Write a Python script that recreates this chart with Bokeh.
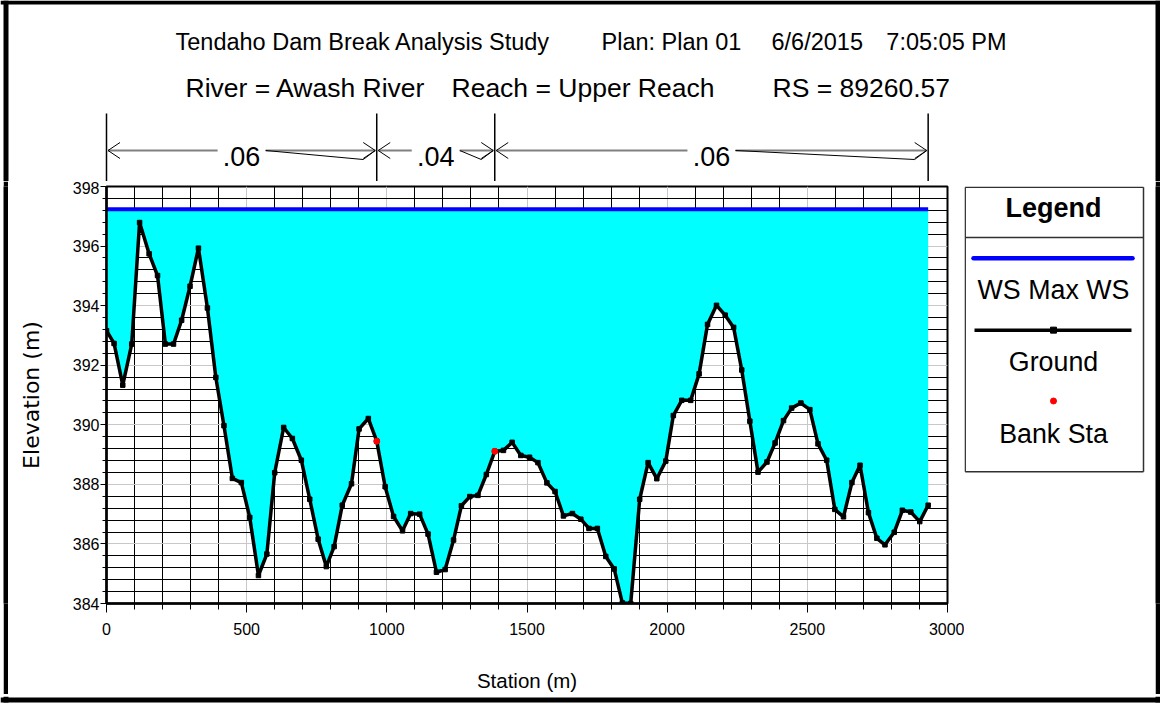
from bokeh.plotting import figure
from bokeh.layouts import column, row
from bokeh.models import Label, SingleIntervalTicker, Range1d
from bokeh.embed import file_html
from bokeh.resources import INLINE

# ---------------- data ----------------
station = [0, 27, 58, 90, 118, 152, 182, 210, 239, 268, 298, 328, 360, 390, 419, 449, 481, 511,
           542, 572, 600, 632, 663, 695, 725, 755, 784, 812, 841, 874, 901, 934, 964, 994, 1024,
           1056, 1085, 1117, 1147, 1177, 1208, 1238, 1266, 1296, 1325, 1355, 1385, 1416, 1447,
           1478, 1509, 1539, 1571, 1600, 1630, 1662, 1692, 1721, 1751, 1781, 1811, 1840, 1870,
           1902, 1932, 1963, 1995, 2022, 2052, 2084, 2114, 2144, 2176, 2207, 2237, 2266, 2295,
           2324, 2356, 2385, 2415, 2444, 2477, 2509, 2538, 2569, 2598, 2629, 2659, 2688, 2718,
           2748, 2777, 2810, 2839, 2869, 2901, 2931]
ground = [393.16, 392.73, 391.33, 392.71, 396.79, 395.74, 395.01, 392.71, 392.71, 393.51, 394.65,
          395.93, 393.92, 391.59, 389.97, 388.20, 388.06, 386.89, 384.94, 385.66, 388.39, 389.91,
          389.54, 388.81, 387.50, 386.16, 385.24, 385.91, 387.30, 388.02, 389.86, 390.21, 389.45,
          387.92, 386.92, 386.44, 387.02, 387.00, 386.33, 385.05, 385.14, 386.13, 387.28, 387.59,
          387.63, 388.33, 389.11, 389.14, 389.41, 388.97, 388.91, 388.73, 388.05, 387.76, 386.94,
          387.02, 386.83, 386.52, 386.52, 385.58, 385.16, 384.02, 384.00, 387.50, 388.73, 388.19,
          388.78, 390.31, 390.82, 390.82, 391.71, 393.37, 394.01, 393.68, 393.27, 391.84, 390.12,
          388.41, 388.75, 389.39, 390.14, 390.56, 390.73, 390.51, 389.36, 388.81, 387.16, 386.91,
          388.06, 388.64, 387.05, 386.19, 385.97, 386.39, 387.13, 387.07, 386.75, 387.30]
bank_sta = [964, 1385]
bank_elev = [389.45, 389.11]
ws_max = 397.24

mann_n = [".06", ".04", ".06"]
mann_bounds = [0, 964, 1385, 2931]

x_tick_step = 500
y_tick_step = 2
x_limits = [0, 3000]
y_limits = [384, 398]

title_line1 = ["Tendaho Dam Break Analysis Study", "Plan: Plan 01", "6/6/2015", "7:05:05 PM"]
title_line2 = ["River = Awash River", "Reach = Upper Reach", "RS = 89260.57"]
legend_title = "Legend"
legend_labels = ["WS Max WS", "Ground", "Bank Sta"]

# ---------------- page geometry (pixels) ----------------
W, H = 1160, 704
FL, FR, FT, FB = 106, 947, 186, 604      # plot frame on the page
TOP_H = 181                               # header strip height
BOT_H = 10
MID_H = H - TOP_H - BOT_H
BL0, BL1 = 3, 8                           # left page border band
BR0 = 1155                                # right page border band start
M_R = 964                                 # right edge of main plot canvas
FONT = "Liberation Sans"


def dx(px):
    return x_limits[0] + (px - FL) * (x_limits[1] - x_limits[0]) / (FR - FL)


def ddx(px):
    return px * (x_limits[1] - x_limits[0]) / (FR - FL)


def deco(width, height, xr, yr, color="white", **borders):
    f = figure(width=width, height=height, x_range=xr, y_range=yr, output_backend="svg",
               toolbar_location=None, min_border=0, x_axis_type=None, y_axis_type=None,
               **borders)
    f.outline_line_color = None
    f.background_fill_color = color
    f.border_fill_color = color
    f.grid.visible = False
    return f


def draw_segs(f, lst, color, width, cap="butt"):
    f.segment(x0=[s[0] for s in lst], y0=[s[1] for s in lst],
              x1=[s[2] for s in lst], y1=[s[3] for s in lst],
              line_color=color, line_width=width, line_cap=cap)


# ---------------- main plot ----------------
p = figure(width=M_R - BL1, height=MID_H, x_range=Range1d(*x_limits),
           y_range=Range1d(*y_limits), output_backend="svg", toolbar_location=None,
           min_border_left=FL - BL1, min_border_right=M_R - FR,
           min_border_top=FT - TOP_H, min_border_bottom=(TOP_H + MID_H) - FB)
p.background_fill_color = "white"
p.border_fill_color = "white"
p.outline_line_color = "black"
p.outline_line_width = 2

p.xaxis.ticker = SingleIntervalTicker(interval=x_tick_step, num_minor_ticks=5)
p.yaxis.ticker = SingleIntervalTicker(interval=y_tick_step, num_minor_ticks=5)
for ax in (p.xaxis, p.yaxis):
    ax.axis_line_color = "black"
    ax.axis_line_width = 2.5
    ax.major_tick_line_color = "black"
    ax.minor_tick_line_color = "black"
    ax.major_tick_in = 0
    ax.minor_tick_in = 0
    ax.major_label_text_font = FONT
    ax.major_label_text_font_size = "16px"
    ax.major_label_text_color = "black"
    ax.axis_label_text_font_style = "normal"
    ax.axis_label_text_color = "black"
p.xaxis.major_tick_out = 9
p.xaxis.minor_tick_out = 6
p.yaxis.major_tick_out = 6
p.yaxis.minor_tick_out = 4
p.xaxis.major_label_standoff = 10
p.yaxis.major_label_standoff = 1
p.xaxis.axis_label = "Station (m)"
p.xaxis.axis_label_text_font = FONT
p.xaxis.axis_label_text_font_size = "20.5px"
p.xaxis.axis_label_standoff = 31
p.yaxis.axis_label = "Elevation (m)"
p.yaxis.axis_label_text_font = "DejaVu Sans"
p.yaxis.axis_label_text_font_size = "22px"
p.yaxis.axis_label_standoff = 26

for g in (p.xgrid, p.ygrid):
    g.grid_line_color = "#c8c8c8"
    g.grid_line_width = 1
    g.minor_grid_line_color = "black"
    g.minor_grid_line_width = 1

n = len(station)
p.varea(x=station, y1=ground, y2=[ws_max] * n, fill_color="#00ffff")
p.line(station, ground, line_color="black", line_width=3.5)
p.scatter(station, ground, marker="square", size=4.5, color="black")
p.line([station[0], station[-1]], [ws_max, ws_max], line_color="#0000ff", line_width=4)
p.scatter(bank_sta, bank_elev, marker="circle", size=6, color="red")

# ---------------- header strip: titles + Manning's n ----------------
top = deco(W, TOP_H, Range1d(dx(0), dx(W)), Range1d(TOP_H, 0))
for txt, px, al in zip(title_line1, [175, 601, 771, 1006], ["left", "left", "left", "right"]):
    top.add_layout(Label(x=dx(px), y=41, text=txt, text_font=FONT, text_font_size="23.5px",
                         text_align=al, text_baseline="middle", text_color="black"))
for txt, px in zip(title_line2, [185, 451, 772]):
    top.add_layout(Label(x=dx(px), y=87.5, text=txt, text_font=FONT, text_font_size="26.5px",
                         text_align="left", text_baseline="middle", text_color="black"))

ya, yl = 150, 159
gray_s, black_s = [], []
for i, lab in enumerate(mann_n):
    a, b = mann_bounds[i], mann_bounds[i + 1]
    mid = (a + b) / 2
    half = ddx(24)
    lt, rt = a + ddx(1.5), b - ddx(1.5)
    gray_s += [(lt, ya, mid - half, ya), (mid + half, ya, rt, ya)]
    black_s += [(mid + half, ya, rt - ddx(12), yl), (rt - ddx(12), yl, rt, ya)]
    for tip, sgn in ((lt, 1), (rt, -1)):
        black_s += [(tip, ya, tip + sgn * ddx(12), ya - 8), (tip, ya, tip + sgn * ddx(12), ya + 8)]
    top.add_layout(Label(x=mid, y=156, text=lab, text_font=FONT, text_font_size="27px",
                         text_align="center", text_baseline="middle", text_color="black"))

draw_segs(top, gray_s, "#808080", 2)
draw_segs(top, black_s, "black", 1)
draw_segs(top, [(b, 113, b, TOP_H) for b in mann_bounds], "black", 1.5)
draw_segs(top, [(dx(0), 2, dx(W), 2)], "black", 4)
draw_segs(top, [(dx((BL0 + BL1) / 2), 0, dx((BL0 + BL1) / 2), TOP_H),
                (dx((BR0 + W) / 2), 0, dx((BR0 + W) / 2), TOP_H)], "black", 5)

# ---------------- plain colour blocks for the page border ----------------
mid_borders = dict(min_border_top=FT - TOP_H, min_border_bottom=(TOP_H + MID_H) - FB)
gap_l = deco(BL0, MID_H, Range1d(0, 1), Range1d(0, 1), "white", **mid_borders)
band_l = deco(BL1 - BL0, MID_H, Range1d(0, 1), Range1d(0, 1), "black", **mid_borders)
band_r = deco(W - BR0, MID_H, Range1d(0, 1), Range1d(0, 1), "black", **mid_borders)

# ---------------- right panel: legend ----------------
rp = deco(BR0 - M_R, MID_H, Range1d(M_R, BR0), Range1d(FB, FT), "white", **mid_borders)
LX0, LX1, LY0, LY1 = 964.7, 1143, 186.7, 472
draw_segs(rp, [(LX0, LY0, LX1, LY0), (LX1, LY0, LX1, LY1), (LX1, LY1, LX0, LY1),
               (LX0, LY1, LX0, LY0), (LX0, 237, LX1, 237)], "#303030", 1.5)
LC = 1053
rp.add_layout(Label(x=LC, y=207.5, text=legend_title, text_font=FONT, text_font_size="27px",
                    text_font_style="bold", text_align="center", text_baseline="middle",
                    text_color="black"))
draw_segs(rp, [(973, 258, 1132, 258)], "#0000ff", 4.5, "round")
draw_segs(rp, [(974, 330, 1131, 330)], "black", 3.5)
rp.scatter([LC], [330], marker="square", size=6, color="black")
rp.scatter([LC], [401], marker="circle", size=6, color="red")
for txt, py in zip(legend_labels, [290, 362, 434]):
    rp.add_layout(Label(x=LC, y=py, text=txt, text_font=FONT, text_font_size="26.8px",
                        text_align="center", text_baseline="middle", text_color="black"))

# ---------------- bottom strip ----------------
bot = deco(W, BOT_H, Range1d(0, W), Range1d(H, H - BOT_H))
draw_segs(bot, [(0, 697.5, W, 697.5)], "black", 5)
draw_segs(bot, [((BL0 + BL1) / 2, H - BOT_H, (BL0 + BL1) / 2, 700),
                ((BR0 + W) / 2, H - BOT_H, (BR0 + W) / 2, 700)], "black", 5)

layout = column(top, row(gap_l, band_l, p, rp, band_r), bot)
open("out.html", "w").write(file_html(layout, INLINE))
